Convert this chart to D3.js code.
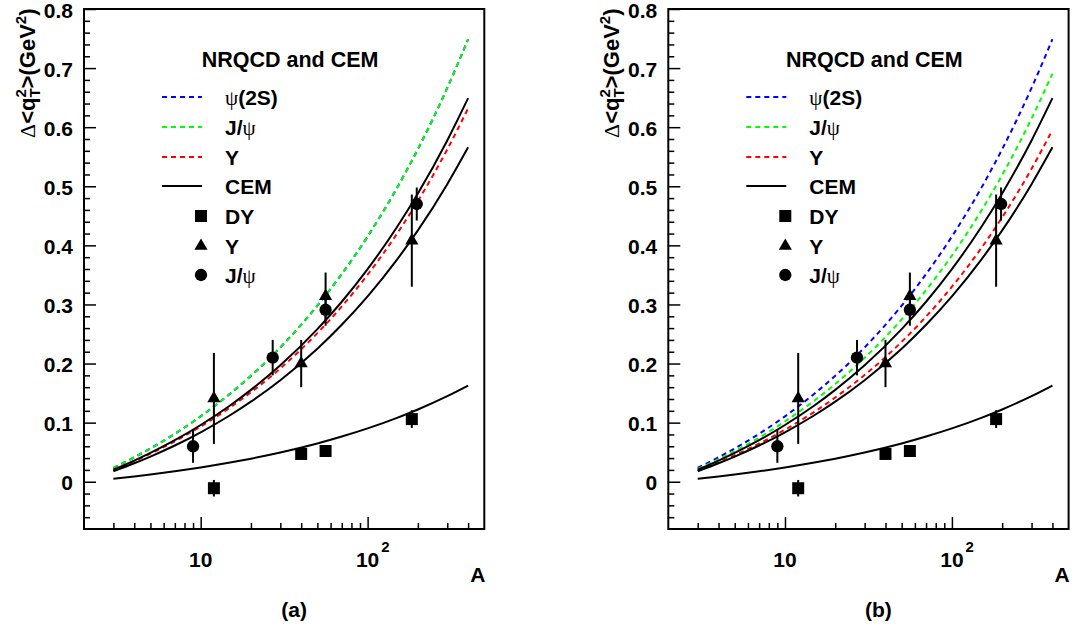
<!DOCTYPE html>
<html>
<head>
<meta charset="utf-8">
<script src="https://cdn.jsdelivr.net/npm/d3@7/dist/d3.min.js"></script>
<style>
  html, body { margin: 0; padding: 0; background: #fff; }
  svg { display: block; }
  text { font-family: "Liberation Sans", Arial, Helvetica, sans-serif; font-weight: bold; fill: #000; }
</style>
</head>
<body>
<script>
// Mass numbers at which the model curves are tabulated
const curveA = [3, 4, 5, 7, 10, 15, 20, 30, 50, 70, 100, 150, 200, 300, 400];

// NRQCD predictions, Δ<q_T^2> in GeV^2
const nrqcdPsi2S = [0.0235, 0.0413, 0.0563, 0.0811, 0.1107, 0.1489, 0.1792, 0.2273, 0.2979, 0.3514, 0.4151, 0.4973, 0.5628, 0.6664, 0.7489];
const nrqcdJpsiA = [0.0235, 0.0413, 0.0563, 0.0811, 0.1107, 0.1489, 0.1792, 0.2273, 0.2979, 0.3514, 0.4151, 0.4973, 0.5628, 0.6664, 0.7489];
const nrqcdJpsiB = [0.0217, 0.0381, 0.0519, 0.0748, 0.1021, 0.1373, 0.1653, 0.2097, 0.2748, 0.3242, 0.3829, 0.4587, 0.5191, 0.6147, 0.6907];
const nrqcdUpsA  = [0.0199, 0.0349, 0.0475, 0.0685, 0.0934, 0.1256, 0.1513, 0.1918, 0.2514, 0.2966, 0.3504, 0.4197, 0.4750, 0.5624, 0.6320];
const nrqcdUpsB  = [0.0187, 0.0328, 0.0448, 0.0645, 0.0880, 0.1183, 0.1425, 0.1807, 0.2368, 0.2794, 0.3300, 0.3954, 0.4474, 0.5297, 0.5953];

// CEM predictions
const cemUpper = [0.0204, 0.0358, 0.0488, 0.0703, 0.0960, 0.1290, 0.1554, 0.1970, 0.2582, 0.3046, 0.3598, 0.4311, 0.4878, 0.5776, 0.6491];
const cemLower = [0.0178, 0.0312, 0.0426, 0.0613, 0.0837, 0.1125, 0.1355, 0.1718, 0.2251, 0.2656, 0.3137, 0.3759, 0.4253, 0.5036, 0.5659];
const cemDY    = [0.0051, 0.0090, 0.0122, 0.0176, 0.0241, 0.0324, 0.0390, 0.0494, 0.0647, 0.0764, 0.0902, 0.1081, 0.1223, 0.1448, 0.1627];

// Measured broadening
const dyA   = [12, 40, 56, 184];
const dyVal = [-0.011, 0.047, 0.052, 0.106];
const dyErr = [0.014, 0.007, 0.007, 0.015];

const upsA   = [12, 40, 56, 184];
const upsVal = [0.141, 0.200, 0.314, 0.408];
const upsErr = [0.077, 0.040, 0.040, 0.078];

const psiA   = [9, 27, 56, 197];
const psiVal = [0.060, 0.210, 0.291, 0.470];
const psiErr = [0.028, 0.030, 0.027, 0.028];

// Axis ticks
const yMajorTicks = [0, 0.1, 0.2, 0.3, 0.4, 0.5, 0.6, 0.7, 0.8];
const yMinorTicks = [-0.06, -0.04, -0.02, 0.02, 0.04, 0.06, 0.08, 0.12, 0.14, 0.16, 0.18, 0.22, 0.24, 0.26, 0.28,
                     0.32, 0.34, 0.36, 0.38, 0.42, 0.44, 0.46, 0.48, 0.52, 0.54, 0.56, 0.58, 0.62, 0.64, 0.66, 0.68,
                     0.72, 0.74, 0.76, 0.78];
const yTickLabels = ["0", "0.1", "0.2", "0.3", "0.4", "0.5", "0.6", "0.7", "0.8"];
const xMajorTicks = [10, 100];
const xMinorTicks = [3, 4, 5, 6, 7, 8, 9, 20, 30, 40, 50, 60, 70, 80, 90, 200, 300, 400];

const panels = [
  { left: 84,    tag: "(a)", blue: nrqcdPsi2S, green: nrqcdJpsiA, red: nrqcdUpsA },
  { left: 668.3, tag: "(b)", blue: nrqcdPsi2S, green: nrqcdJpsiB, red: nrqcdUpsB }
];

const W = 1075, H = 631;
const svg = d3.select("body").append("svg").attr("width", W).attr("height", H);

const SERIF = '"Liberation Serif", "DejaVu Serif", serif';
const FRAME_W = 400.3, TOP = 9, BOTTOM = 529;

// Lay out a run of text pieces left to right, measuring each one.
function richText(g, pieces, x0, y0) {
  let x = x0;
  let stackStart = null;
  pieces.forEach(p => {
    const t = g.append("text")
      .attr("x", p.stack ? stackStart : x)
      .attr("y", y0 + (p.dy || 0))
      .style("font-size", p.size + "px")
      .text(p.t);
    if (p.family) t.style("font-family", p.family);
    if (p.weight) t.style("font-weight", p.weight);
    const w = t.node().getComputedTextLength();
    if (p.stack) {
      x = Math.max(x, stackStart + w);
    } else {
      stackStart = x;
      x += w;
    }
  });
  return x;
}

panels.forEach(p => {
  const x0 = p.left, x1 = p.left + FRAME_W;
  const xs = d3.scaleLog().domain([2, 500]).range([x0, x1]);
  const ys = d3.scaleLinear().domain([-0.08, 0.8]).range([BOTTOM, TOP]);
  const g = svg.append("g");

  // ticks pointing into the frame
  const tickAxis = (axis, sel) => {
    sel.call(axis);
    sel.select(".domain").remove();
    sel.selectAll(".tick line").attr("stroke", "#000").attr("stroke-width", 1.5);
    sel.selectAll(".tick text").remove();
  };
  tickAxis(d3.axisBottom(xs).tickValues(xMajorTicks).tickSize(-12).tickFormat(""),
           g.append("g").attr("transform", `translate(0,${BOTTOM})`));
  tickAxis(d3.axisBottom(xs).tickValues(xMinorTicks).tickSize(-6).tickFormat(""),
           g.append("g").attr("transform", `translate(0,${BOTTOM})`));
  tickAxis(d3.axisLeft(ys).tickValues(yMajorTicks).tickSize(-12).tickFormat(""),
           g.append("g").attr("transform", `translate(${x0},0)`));
  tickAxis(d3.axisLeft(ys).tickValues(yMinorTicks).tickSize(-6).tickFormat(""),
           g.append("g").attr("transform", `translate(${x0},0)`));

  // y tick labels
  const yl = g.append("g").attr("transform", `translate(${x0},1.5)`)
    .call(d3.axisLeft(ys).tickValues(yMajorTicks).tickSize(0).tickPadding(11)
      .tickFormat((d, i) => yTickLabels[i]));
  yl.select(".domain").remove();
  yl.selectAll(".tick text")
    .attr("fill", "#000")
    .style("font-family", '"Liberation Sans", Arial, sans-serif')
    .style("font-weight", "bold")
    .style("font-size", "21px");

  // x tick labels
  g.append("text").attr("x", xs(10)).attr("y", 566.7).attr("text-anchor", "middle")
    .style("font-size", "21px").text("10");
  const t100 = g.append("text").attr("x", xs(100) - 11.7).attr("y", 566.7).style("font-size", "21px");
  t100.append("tspan").text("10");
  t100.append("tspan").attr("dx", 2).attr("dy", -15).style("font-size", "15px").text("2");

  g.append("text").attr("x", x1 + 1).attr("y", 581.5).attr("text-anchor", "end")
    .style("font-size", "21px").text("A");
  g.append("text").attr("x", (x0 + x1) / 2 + 10).attr("y", 617).attr("text-anchor", "middle")
    .style("font-size", "21px").text(p.tag);

  // y axis title
  const tg = g.append("g").attr("transform", `translate(${x0 - 49},138) rotate(-90)`);
  richText(tg, [
    { t: "\u0394", size: 22, family: SERIF, weight: "normal" },
    { t: "<q", size: 22 },
    { t: "2", size: 15, dy: -9 },
    { t: "T", size: 15, dy: 5, stack: true },
    { t: ">(GeV", size: 22 },
    { t: "2", size: 15, dy: -9 },
    { t: ")", size: 22 }
  ], 0, 0);

  // model curves
  const line = vals => d3.line()
    .x((d, i) => xs(curveA[i]))
    .y(d => ys(d))
    .curve(d3.curveMonotoneX)(vals);
  const plot = g.append("g");
  const curves = [
    { v: p.blue,  c: "#0000ff", dash: "5,4" },
    { v: p.green, c: "#00ff00", dash: "5,4" },
    { v: p.red,   c: "#ff0000", dash: "5,4" },
    { v: cemUpper, c: "#000", dash: null },
    { v: cemLower, c: "#000", dash: null },
    { v: cemDY,    c: "#000", dash: null }
  ];
  curves.forEach(cv => {
    plot.append("path").attr("d", line(cv.v)).attr("fill", "none")
      .attr("stroke", cv.c).attr("stroke-width", 2)
      .attr("stroke-dasharray", cv.dash);
  });

  // data points with error bars
  const symSquare = d3.symbol().type(d3.symbolSquare).size(144);
  const symTri = d3.symbol().type(d3.symbolTriangle).size(75);
  const symCircle = d3.symbol().type(d3.symbolCircle).size(120);
  const sets = [
    { a: dyA, v: dyVal, e: dyErr, sym: symSquare },
    { a: upsA, v: upsVal, e: upsErr, sym: symTri },
    { a: psiA, v: psiVal, e: psiErr, sym: symCircle }
  ];
  sets.forEach(s => {
    s.a.forEach((a, i) => {
      plot.append("line")
        .attr("x1", xs(a)).attr("x2", xs(a))
        .attr("y1", ys(s.v[i] - s.e[i])).attr("y2", ys(s.v[i] + s.e[i]))
        .attr("stroke", "#000").attr("stroke-width", 2);
      plot.append("path").attr("d", s.sym())
        .attr("transform", `translate(${xs(a)},${ys(s.v[i])})`)
        .attr("fill", "#000");
    });
  });

  // frame
  g.append("rect").attr("x", x0).attr("y", TOP).attr("width", FRAME_W).attr("height", BOTTOM - TOP)
    .attr("fill", "none").attr("stroke", "#000").attr("stroke-width", 2);

  // legend
  const lg = g.append("g");
  lg.append("text").attr("x", x0 + 117.7).attr("y", 66.7).style("font-size", "21.5px").text("NRQCD and CEM");
  const lx = x0 + 141;
  const rows = [
    { y: 97,  c: "#0000ff", dash: "5,4", label: [{ t: "\u03c8", size: 21, family: SERIF, weight: "normal" }, { t: "(2S)", size: 21 }] },
    { y: 127, c: "#00ff00", dash: "5,4", label: [{ t: "J/", size: 21 }, { t: "\u03c8", size: 21, family: SERIF, weight: "normal" }] },
    { y: 157, c: "#ff0000", dash: "5,4", label: [{ t: "Y", size: 21 }] },
    { y: 186, c: "#000", dash: null, label: [{ t: "CEM", size: 21 }] }
  ];
  rows.forEach(r => {
    lg.append("line").attr("x1", x0 + 78).attr("x2", x0 + 118).attr("y1", r.y).attr("y2", r.y)
      .attr("stroke", r.c).attr("stroke-width", 2).attr("stroke-dasharray", r.dash);
    richText(lg, r.label, lx, r.y + 8);
  });
  const mrows = [
    { y: 216, sym: symSquare, label: [{ t: "DY", size: 21 }] },
    { y: 246, sym: symTri, label: [{ t: "Y", size: 21 }] },
    { y: 275, sym: symCircle, label: [{ t: "J/", size: 21 }, { t: "\u03c8", size: 21, family: SERIF, weight: "normal" }] }
  ];
  mrows.forEach(r => {
    lg.append("path").attr("d", r.sym()).attr("transform", `translate(${x0 + 117},${r.y})`).attr("fill", "#000");
    richText(lg, r.label, lx, r.y + 8);
  });
});
</script>
</body>
</html>
